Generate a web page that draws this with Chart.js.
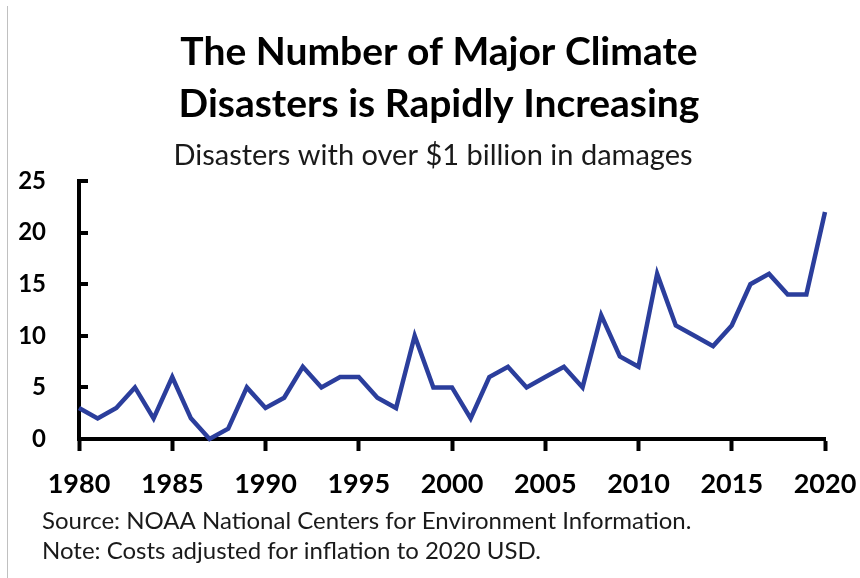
<!DOCTYPE html>
<html>
<head>
<meta charset="utf-8">
<script src="https://cdn.jsdelivr.net/npm/chart.js@4.4.0/dist/chart.umd.min.js"></script>
<style>
  html, body { margin: 0; padding: 0; background: #fff; }
  #wrap { position: relative; width: 860px; height: 578px; }
  #edge { position: absolute; left: 7px; top: 6px; width: 1px; height: 572px; background: #c0c0c0; }
</style>
</head>
<body>
<div id="wrap">
  <div id="edge"></div>
  <canvas id="climateChart" width="860" height="578"></canvas>
</div>
<script>
// data
const years = [1980, 1981, 1982, 1983, 1984, 1985, 1986, 1987, 1988, 1989,
               1990, 1991, 1992, 1993, 1994, 1995, 1996, 1997, 1998, 1999,
               2000, 2001, 2002, 2003, 2004, 2005, 2006, 2007, 2008, 2009,
               2010, 2011, 2012, 2013, 2014, 2015, 2016, 2017, 2018, 2019, 2020];
const disasters = [3, 2, 3, 5, 2, 6, 2, 0, 1, 5,
                   3, 4, 7, 5, 6, 6, 4, 3, 10, 5,
                   5, 2, 6, 7, 5, 6, 7, 5, 12, 8,
                   7, 16, 11, 10, 9, 11, 15, 16, 14, 14, 22];
const xTicks = [1980, 1985, 1990, 1995, 2000, 2005, 2010, 2015, 2020];
const yTicks = [0, 5, 10, 15, 20, 25];

const titleLines = ['The Number of Major Climate', 'Disasters is Rapidly Increasing'];
const subtitleText = 'Disasters with over $1 billion in damages';
const footerLines = ['Source: NOAA National Centers for Environment Information.',
                     'Note: Costs adjusted for inflation to 2020 USD.'];

const FONT = 'Lato, "Open Sans", sans-serif';

// titles, footer and the inward y ticks
const decorPlugin = {
    id: 'decor',
    afterDraw(chart) {
        const ctx = chart.ctx;
        const area = chart.chartArea;
        const yScale = chart.scales.y;

        ctx.save();
        ctx.strokeStyle = '#000';
        ctx.lineWidth = 4;
        yTicks.forEach(v => {
            if (v === 0) return;
            const py = Math.round(yScale.getPixelForValue(v));
            ctx.beginPath();
            ctx.moveTo(area.left, py);
            ctx.lineTo(area.left + 9, py);
            ctx.stroke();
        });

        ctx.fillStyle = '#000';
        ctx.textAlign = 'center';
        ctx.textBaseline = 'alphabetic';
        ctx.font = 'bold 39px ' + FONT;
        ctx.fillText(titleLines[0], 439, 65);
        ctx.fillText(titleLines[1], 439, 117);

        ctx.fillStyle = '#1a1a1a';
        ctx.font = '29px ' + FONT;
        ctx.fillText(subtitleText, 433, 165);

        ctx.textAlign = 'left';
        ctx.font = '24px ' + FONT;
        ctx.fillText(footerLines[0], 42, 529);
        ctx.fillText(footerLines[1], 42, 559);
        ctx.restore();
    }
};

const ctx = document.getElementById('climateChart').getContext('2d');
new Chart(ctx, {
    type: 'line',
    data: {
        datasets: [{
            label: 'Disasters',
            data: years.map((yr, i) => ({ x: yr, y: disasters[i] })),
            borderColor: '#2b3e9c',
            borderWidth: 4.5,
            pointRadius: 0,
            tension: 0,
            clip: false
        }]
    },
    options: {
        responsive: false,
        animation: false,
        layout: { padding: { top: 181, right: 35, bottom: 0, left: 0 } },
        plugins: {
            legend: { display: false },
            tooltip: { enabled: false }
        },
        scales: {
            x: {
                type: 'linear',
                min: 1980,
                max: 2020,
                afterBuildTicks: s => { s.ticks = xTicks.map(v => ({ value: v })); },
                afterFit: s => { s.height = 139; s.paddingLeft = 0; s.paddingRight = 0; },
                grid: {
                    drawOnChartArea: false,
                    drawTicks: true,
                    tickLength: 12,
                    tickWidth: 4,
                    tickColor: '#000'
                },
                border: { display: true, color: '#000', width: 4 },
                ticks: {
                    padding: 17,
                    color: '#000',
                    font: { family: FONT, size: 27, weight: 'bold' },
                    callback: v => String(v),
                    maxRotation: 0
                }
            },
            y: {
                min: 0,
                max: 25,
                afterBuildTicks: s => { s.ticks = yTicks.map(v => ({ value: v })); },
                afterFit: s => { s.width = 79; s.paddingTop = 0; s.paddingBottom = 0; },
                grid: { drawOnChartArea: false, drawTicks: false },
                border: { display: true, color: '#000', width: 4 },
                ticks: {
                    padding: 33,
                    color: '#000',
                    font: { family: FONT, size: 24, weight: 'bold' }
                }
            }
        }
    },
    plugins: [decorPlugin]
});
</script>
</body>
</html>
